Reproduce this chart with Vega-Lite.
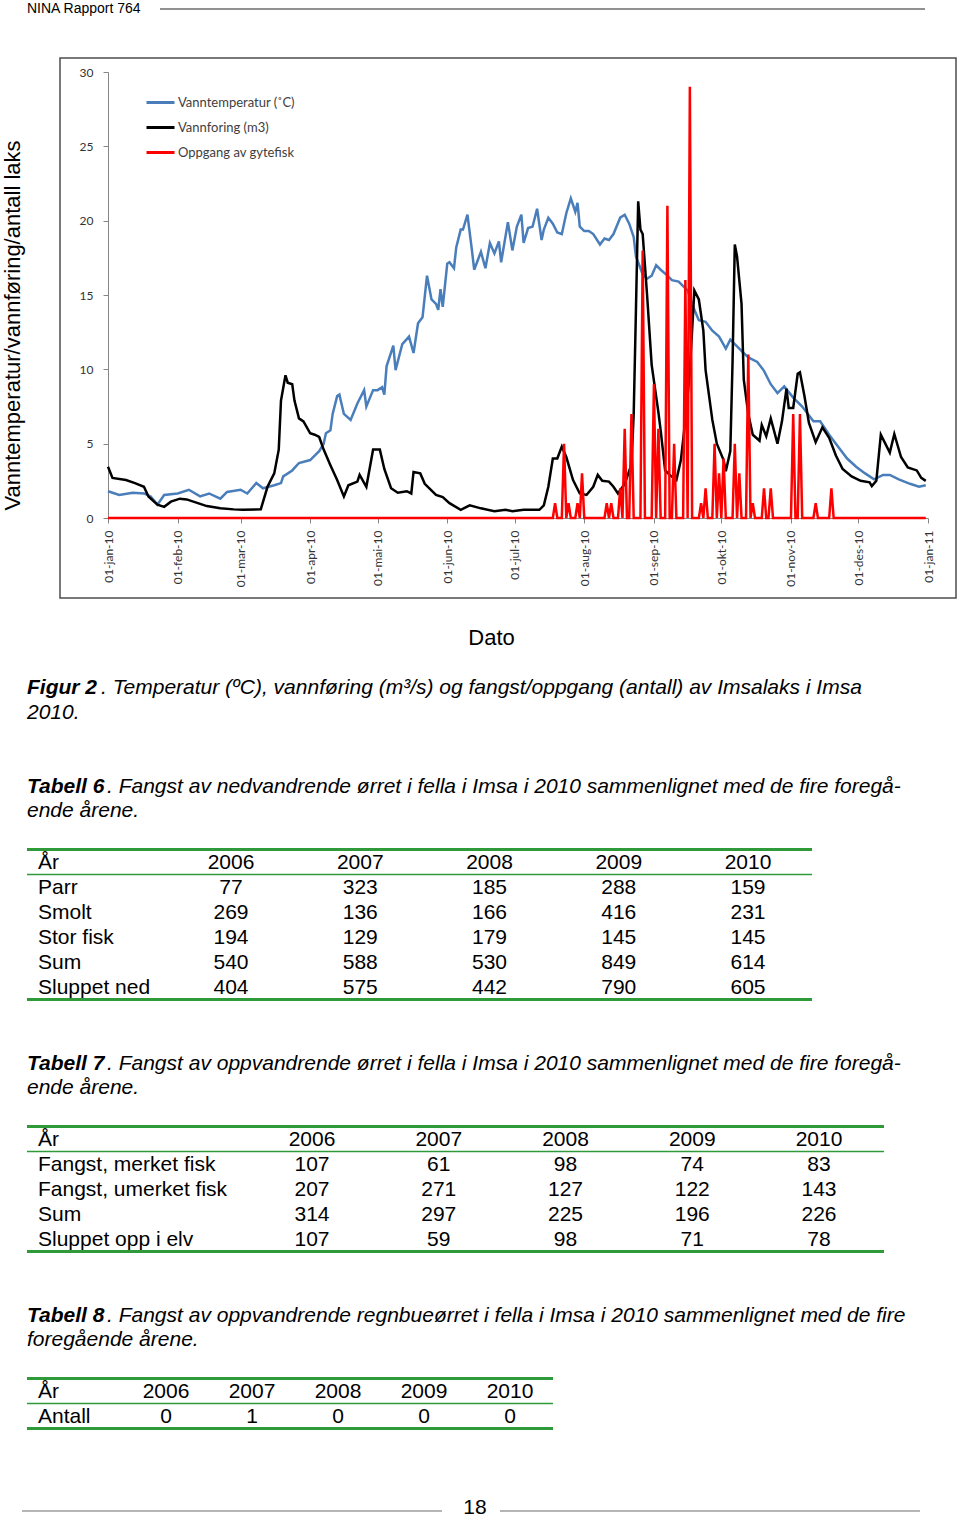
{
  "$schema": "https://vega.github.io/schema/vega-lite/v6.json",
  "width": 960,
  "height": 1520,
  "autosize": {"type": "none"},
  "padding": 0,
  "background": "white",
  "config": {"view": {"stroke": null}, "font": "Liberation Sans"},
  "datasets": {
    "temp": [
      {"date":"2010-01-01","v":1.8},{"date":"2010-01-06","v":1.55},{"date":"2010-01-12","v":1.7},{"date":"2010-01-17","v":1.65},{"date":"2010-01-20","v":1.45},{"date":"2010-01-23","v":0.9},{"date":"2010-01-26","v":1.55},{"date":"2010-02-01","v":1.65},{"date":"2010-02-06","v":1.9},{"date":"2010-02-11","v":1.45},{"date":"2010-02-15","v":1.65},{"date":"2010-02-20","v":1.3},{"date":"2010-02-23","v":1.75},{"date":"2010-03-01","v":1.9},{"date":"2010-03-04","v":1.65},{"date":"2010-03-08","v":2.35},{"date":"2010-03-11","v":2.0},{"date":"2010-03-16","v":2.2},{"date":"2010-03-19","v":2.35},{"date":"2010-03-20","v":2.8},{"date":"2010-03-24","v":3.2},{"date":"2010-03-27","v":3.7},{"date":"2010-04-01","v":3.9},{"date":"2010-04-04","v":4.35},{"date":"2010-04-05","v":4.5},{"date":"2010-04-07","v":5.0},{"date":"2010-04-08","v":5.7},{"date":"2010-04-10","v":5.9},{"date":"2010-04-11","v":7.0},{"date":"2010-04-13","v":8.2},{"date":"2010-04-14","v":8.3},{"date":"2010-04-16","v":7.0},{"date":"2010-04-19","v":6.6},{"date":"2010-04-22","v":7.7},{"date":"2010-04-25","v":8.6},{"date":"2010-04-26","v":7.5},{"date":"2010-04-29","v":8.6},{"date":"2010-05-01","v":8.6},{"date":"2010-05-03","v":8.8},{"date":"2010-05-04","v":8.3},{"date":"2010-05-05","v":10.2},{"date":"2010-05-08","v":11.6},{"date":"2010-05-09","v":9.95},{"date":"2010-05-12","v":11.7},{"date":"2010-05-15","v":12.2},{"date":"2010-05-17","v":11.1},{"date":"2010-05-19","v":13.1},{"date":"2010-05-21","v":13.5},{"date":"2010-05-23","v":16.3},{"date":"2010-05-25","v":14.7},{"date":"2010-05-27","v":14.4},{"date":"2010-05-28","v":14.0},{"date":"2010-05-29","v":15.4},{"date":"2010-05-30","v":14.2},{"date":"2010-06-01","v":17.1},{"date":"2010-06-02","v":17.2},{"date":"2010-06-04","v":16.8},{"date":"2010-06-05","v":18.2},{"date":"2010-06-07","v":19.4},{"date":"2010-06-08","v":19.4},{"date":"2010-06-10","v":20.4},{"date":"2010-06-12","v":18.0},{"date":"2010-06-13","v":16.7},{"date":"2010-06-16","v":17.9},{"date":"2010-06-18","v":16.8},{"date":"2010-06-20","v":18.5},{"date":"2010-06-22","v":17.8},{"date":"2010-06-24","v":18.6},{"date":"2010-06-25","v":17.2},{"date":"2010-06-28","v":19.9},{"date":"2010-06-30","v":18.0},{"date":"2010-07-02","v":19.6},{"date":"2010-07-04","v":20.4},{"date":"2010-07-05","v":18.5},{"date":"2010-07-07","v":19.5},{"date":"2010-07-09","v":19.6},{"date":"2010-07-11","v":20.8},{"date":"2010-07-13","v":18.7},{"date":"2010-07-14","v":19.4},{"date":"2010-07-16","v":20.2},{"date":"2010-07-18","v":19.8},{"date":"2010-07-20","v":19.2},{"date":"2010-07-22","v":19.1},{"date":"2010-07-24","v":20.5},{"date":"2010-07-26","v":21.5},{"date":"2010-07-28","v":20.6},{"date":"2010-07-29","v":21.2},{"date":"2010-07-30","v":19.6},{"date":"2010-08-01","v":19.3},{"date":"2010-08-03","v":19.3},{"date":"2010-08-05","v":19.1},{"date":"2010-08-08","v":18.4},{"date":"2010-08-10","v":18.8},{"date":"2010-08-12","v":18.7},{"date":"2010-08-14","v":19.1},{"date":"2010-08-17","v":20.2},{"date":"2010-08-19","v":20.4},{"date":"2010-08-21","v":19.8},{"date":"2010-08-23","v":18.9},{"date":"2010-08-24","v":17.6},{"date":"2010-08-27","v":16.4},{"date":"2010-08-29","v":16.1},{"date":"2010-08-31","v":16.3},{"date":"2010-09-02","v":17.0},{"date":"2010-09-04","v":16.7},{"date":"2010-09-07","v":16.3},{"date":"2010-09-09","v":16.0},{"date":"2010-09-12","v":15.9},{"date":"2010-09-16","v":15.3},{"date":"2010-09-19","v":14.0},{"date":"2010-09-21","v":13.3},{"date":"2010-09-24","v":13.2},{"date":"2010-09-27","v":12.6},{"date":"2010-09-30","v":12.2},{"date":"2010-10-03","v":11.4},{"date":"2010-10-05","v":12.0},{"date":"2010-10-09","v":11.4},{"date":"2010-10-13","v":10.8},{"date":"2010-10-17","v":10.5},{"date":"2010-10-20","v":9.9},{"date":"2010-10-23","v":9.0},{"date":"2010-10-26","v":8.4},{"date":"2010-10-29","v":8.85},{"date":"2010-11-02","v":8.1},{"date":"2010-11-06","v":7.5},{"date":"2010-11-11","v":6.5},{"date":"2010-11-14","v":6.5},{"date":"2010-11-18","v":5.6},{"date":"2010-11-22","v":4.8},{"date":"2010-11-26","v":4.0},{"date":"2010-11-30","v":3.45},{"date":"2010-12-04","v":3.0},{"date":"2010-12-08","v":2.6},{"date":"2010-12-12","v":2.9},{"date":"2010-12-15","v":2.9},{"date":"2010-12-19","v":2.6},{"date":"2010-12-24","v":2.3},{"date":"2010-12-28","v":2.1},{"date":"2010-12-31","v":2.2}
    ],
    "flow": [
      {"date":"2010-01-01","v":3.45},{"date":"2010-01-03","v":2.7},{"date":"2010-01-09","v":2.55},{"date":"2010-01-13","v":2.35},{"date":"2010-01-17","v":2.1},{"date":"2010-01-19","v":1.45},{"date":"2010-01-23","v":0.9},{"date":"2010-01-26","v":0.75},{"date":"2010-01-29","v":1.1},{"date":"2010-02-02","v":1.3},{"date":"2010-02-05","v":1.25},{"date":"2010-02-10","v":1.0},{"date":"2010-02-14","v":0.8},{"date":"2010-02-20","v":0.65},{"date":"2010-02-26","v":0.58},{"date":"2010-03-02","v":0.55},{"date":"2010-03-10","v":0.58},{"date":"2010-03-13","v":2.1},{"date":"2010-03-16","v":3.0},{"date":"2010-03-18","v":4.6},{"date":"2010-03-19","v":7.9},{"date":"2010-03-21","v":9.6},{"date":"2010-03-22","v":9.1},{"date":"2010-03-24","v":9.0},{"date":"2010-03-25","v":7.9},{"date":"2010-03-27","v":6.7},{"date":"2010-03-29","v":6.5},{"date":"2010-04-01","v":5.7},{"date":"2010-04-03","v":5.6},{"date":"2010-04-05","v":5.45},{"date":"2010-04-07","v":4.6},{"date":"2010-04-10","v":3.55},{"date":"2010-04-13","v":2.55},{"date":"2010-04-16","v":1.45},{"date":"2010-04-18","v":2.2},{"date":"2010-04-22","v":2.45},{"date":"2010-04-23","v":2.9},{"date":"2010-04-26","v":2.1},{"date":"2010-04-29","v":4.6},{"date":"2010-05-02","v":4.6},{"date":"2010-05-04","v":3.3},{"date":"2010-05-07","v":2.0},{"date":"2010-05-10","v":1.7},{"date":"2010-05-14","v":1.8},{"date":"2010-05-16","v":1.65},{"date":"2010-05-17","v":3.1},{"date":"2010-05-20","v":3.0},{"date":"2010-05-22","v":2.3},{"date":"2010-05-27","v":1.55},{"date":"2010-05-30","v":1.4},{"date":"2010-06-02","v":1.0},{"date":"2010-06-07","v":0.55},{"date":"2010-06-11","v":0.85},{"date":"2010-06-16","v":0.65},{"date":"2010-06-22","v":0.45},{"date":"2010-06-27","v":0.55},{"date":"2010-06-30","v":0.45},{"date":"2010-07-05","v":0.55},{"date":"2010-07-12","v":0.55},{"date":"2010-07-14","v":0.85},{"date":"2010-07-16","v":2.1},{"date":"2010-07-18","v":4.0},{"date":"2010-07-20","v":4.0},{"date":"2010-07-22","v":4.8},{"date":"2010-07-24","v":4.1},{"date":"2010-07-27","v":2.55},{"date":"2010-07-30","v":1.65},{"date":"2010-08-02","v":1.55},{"date":"2010-08-05","v":2.1},{"date":"2010-08-07","v":2.9},{"date":"2010-08-09","v":2.5},{"date":"2010-08-12","v":2.45},{"date":"2010-08-14","v":2.1},{"date":"2010-08-16","v":1.65},{"date":"2010-08-19","v":2.3},{"date":"2010-08-22","v":3.6},{"date":"2010-08-23","v":7.0},{"date":"2010-08-24","v":14.0},{"date":"2010-08-25","v":21.3},{"date":"2010-08-26","v":19.4},{"date":"2010-08-27","v":19.1},{"date":"2010-08-29","v":14.9},{"date":"2010-08-31","v":10.3},{"date":"2010-09-03","v":7.1},{"date":"2010-09-04","v":5.9},{"date":"2010-09-06","v":3.2},{"date":"2010-09-08","v":2.9},{"date":"2010-09-11","v":2.55},{"date":"2010-09-13","v":3.9},{"date":"2010-09-15","v":6.6},{"date":"2010-09-17","v":9.95},{"date":"2010-09-19","v":15.3},{"date":"2010-09-21","v":14.7},{"date":"2010-09-23","v":12.6},{"date":"2010-09-24","v":9.95},{"date":"2010-09-27","v":6.6},{"date":"2010-09-29","v":5.0},{"date":"2010-10-02","v":3.9},{"date":"2010-10-03","v":3.15},{"date":"2010-10-05","v":4.5},{"date":"2010-10-06","v":10.5},{"date":"2010-10-07","v":18.4},{"date":"2010-10-08","v":17.6},{"date":"2010-10-10","v":14.4},{"date":"2010-10-11","v":9.3},{"date":"2010-10-13","v":7.0},{"date":"2010-10-15","v":5.6},{"date":"2010-10-18","v":5.2},{"date":"2010-10-19","v":6.25},{"date":"2010-10-21","v":5.5},{"date":"2010-10-23","v":6.7},{"date":"2010-10-26","v":5.0},{"date":"2010-10-28","v":6.5},{"date":"2010-10-30","v":8.7},{"date":"2010-10-31","v":7.4},{"date":"2010-11-02","v":7.4},{"date":"2010-11-04","v":9.7},{"date":"2010-11-05","v":9.8},{"date":"2010-11-07","v":8.2},{"date":"2010-11-09","v":6.4},{"date":"2010-11-12","v":5.1},{"date":"2010-11-15","v":6.1},{"date":"2010-11-18","v":5.4},{"date":"2010-11-21","v":4.2},{"date":"2010-11-24","v":3.3},{"date":"2010-11-28","v":2.8},{"date":"2010-12-02","v":2.5},{"date":"2010-12-06","v":2.4},{"date":"2010-12-07","v":2.15},{"date":"2010-12-09","v":2.5},{"date":"2010-12-11","v":5.6},{"date":"2010-12-15","v":4.4},{"date":"2010-12-17","v":5.65},{"date":"2010-12-20","v":4.1},{"date":"2010-12-23","v":3.4},{"date":"2010-12-27","v":3.2},{"date":"2010-12-29","v":2.7},{"date":"2010-12-31","v":2.5}
    ],
    "fish": [
      {"date":"2010-01-01","v":0},
      {"date":"2010-07-18","v":0},{"date":"2010-07-19","v":1},{"date":"2010-07-20","v":0},
      {"date":"2010-07-22","v":0},{"date":"2010-07-23","v":5},{"date":"2010-07-24","v":0},{"date":"2010-07-25","v":1},{"date":"2010-07-26","v":0},
      {"date":"2010-07-28","v":0},{"date":"2010-07-29","v":1},{"date":"2010-07-30","v":0},{"date":"2010-07-31","v":3},{"date":"2010-08-01","v":0},
      {"date":"2010-08-10","v":0},{"date":"2010-08-11","v":1},{"date":"2010-08-12","v":0},{"date":"2010-08-13","v":1},{"date":"2010-08-14","v":0},
      {"date":"2010-08-16","v":0},{"date":"2010-08-17","v":2},{"date":"2010-08-18","v":0},{"date":"2010-08-19","v":6},{"date":"2010-08-20","v":0},
      {"date":"2010-08-21","v":0},{"date":"2010-08-22","v":7},{"date":"2010-08-23","v":0},
      {"date":"2010-08-26","v":0},{"date":"2010-08-27","v":18},{"date":"2010-08-28","v":0},
      {"date":"2010-08-31","v":0},{"date":"2010-09-01","v":9},{"date":"2010-09-02","v":0},{"date":"2010-09-03","v":6},{"date":"2010-09-04","v":0},
      {"date":"2010-09-06","v":0},{"date":"2010-09-07","v":21},{"date":"2010-09-08","v":0},
      {"date":"2010-09-09","v":0},{"date":"2010-09-10","v":5},{"date":"2010-09-11","v":0},
      {"date":"2010-09-14","v":0},{"date":"2010-09-15","v":16},{"date":"2010-09-16","v":0},{"date":"2010-09-17","v":29},{"date":"2010-09-18","v":0},
      {"date":"2010-09-21","v":0},{"date":"2010-09-22","v":1},{"date":"2010-09-23","v":0},{"date":"2010-09-24","v":2},{"date":"2010-09-25","v":0},
      {"date":"2010-09-27","v":0},{"date":"2010-09-28","v":5},{"date":"2010-09-29","v":0},{"date":"2010-09-30","v":3},{"date":"2010-10-01","v":0},{"date":"2010-10-02","v":4},{"date":"2010-10-03","v":0},
      {"date":"2010-10-06","v":0},{"date":"2010-10-07","v":5},{"date":"2010-10-08","v":0},{"date":"2010-10-09","v":3},{"date":"2010-10-10","v":0},
      {"date":"2010-10-12","v":0},{"date":"2010-10-13","v":11},{"date":"2010-10-14","v":0},{"date":"2010-10-15","v":1},{"date":"2010-10-16","v":0},
      {"date":"2010-10-19","v":0},{"date":"2010-10-20","v":2},{"date":"2010-10-21","v":0},
      {"date":"2010-10-22","v":0},{"date":"2010-10-23","v":2},{"date":"2010-10-24","v":0},
      {"date":"2010-11-01","v":0},{"date":"2010-11-02","v":7},{"date":"2010-11-03","v":0},
      {"date":"2010-11-04","v":0},{"date":"2010-11-05","v":7},{"date":"2010-11-06","v":0},
      {"date":"2010-11-11","v":0},{"date":"2010-11-12","v":1},{"date":"2010-11-13","v":0},
      {"date":"2010-11-18","v":0},{"date":"2010-11-19","v":2},{"date":"2010-11-20","v":0},
      {"date":"2010-12-31","v":0}
    ]
  },
  "layer": [
    {
      "data": {"values": [{"line": "header", "text": "NINA Rapport 764"}]},
      "mark": {"type": "text", "align": "left", "baseline": "middle", "font": "Liberation Sans", "fontSize": 14, "color": "black"},
      "encoding": {
        "x": {"datum": "margin", "type": "nominal", "scale": {"type": "point", "range": [27, 27], "padding": 0}, "axis": null},
        "y": {"field": "line", "type": "nominal", "scale": {"type": "point", "range": [9, 9], "padding": 0}, "axis": null},
        "text": {"field": "text"}
      }
    },
    {
      "data": {"values": [{"line": "header"}]},
      "mark": {"type": "rule", "color": "#6d6d6d", "strokeWidth": 1.5},
      "encoding": {
        "x": {"datum": 0, "type": "quantitative", "scale": {"domain": [0, 1], "range": [160, 925]}, "axis": null},
        "x2": {"datum": 1},
        "y": {"field": "line", "type": "nominal", "scale": {"type": "point", "range": [9, 9], "padding": 0}, "axis": null}
      }
    },
    {
      "data": {"values": [{"box": "chart"}]},
      "mark": {"type": "rect", "filled": false, "color": "#4d4d4d", "strokeWidth": 1.5},
      "encoding": {
        "x": {"datum": 0, "type": "quantitative", "scale": {"domain": [0, 1], "range": [60, 956]}, "axis": null},
        "x2": {"datum": 1},
        "y": {"datum": 0, "type": "quantitative", "scale": {"domain": [0, 1], "range": [58, 598]}, "axis": null},
        "y2": {"datum": 1}
      }
    },
    {
      "layer": [
        {
          "data": {"name": "temp"},
          "mark": {"type": "line", "strokeWidth": 2.5},
          "encoding": {
            "x": {
              "field": "date", "type": "temporal",
              "scale": {"type": "utc", "domain": [{"year": 2010, "month": 1, "date": 1, "utc": true}, {"year": 2011, "month": 1, "date": 1, "utc": true}], "range": [108, 928], "nice": false},
              "axis": {
                "orient": "bottom", "offset": -1002,
                "title": "Dato", "titleFont": "Liberation Sans", "titleFontSize": 22, "titleFontWeight": "normal", "titleColor": "black",
                "titleX": 491, "titleY": 119, "titleAlign": "center", "titleBaseline": "middle",
                "tickCount": {"interval": "month", "step": 1},
                "labelExpr": "'01-' + ['jan','feb','mar','apr','mai','jun','jul','aug','sep','okt','nov','des'][utcmonth(datum.value)] + '-' + utcFormat(datum.value, '%y')",
                "labelAngle": 270, "labelFont": "Lato", "labelFontSize": 12, "labelColor": "#333333", "labelPadding": 7,
                "labelOverlap": false, "labelBound": false, "labelFlush": false,
                "tickSize": 5, "tickColor": "#868686", "domainColor": "#868686", "grid": false
              }
            },
            "y": {
              "field": "v", "type": "quantitative",
              "scale": {"domain": [0, 30], "range": [518, 72], "nice": false, "zero": false},
              "axis": {
                "orient": "left", "offset": -108,
                "title": "Vanntemperatur/vannføring/antall laks", "titleFont": "Liberation Sans", "titleFontSize": 22, "titleFontWeight": "normal", "titleColor": "black",
                "titleX": -96, "titleY": 325, "titleAngle": 270, "titleAlign": "center", "titleBaseline": "middle",
                "values": [0, 5, 10, 15, 20, 25, 30],
                "labelFont": "Lato", "labelFontSize": 12, "labelColor": "#333333", "labelPadding": 10,
                "tickSize": 5, "tickColor": "#868686", "domainColor": "#868686", "grid": false
              }
            },
            "color": {
              "datum": "Vanntemperatur (˚C)", "type": "nominal",
              "scale": {"domain": ["Vanntemperatur (˚C)", "Vannforing (m3)", "Oppgang av gytefisk"], "range": ["#4a7ebb", "#000000", "#ff0000"]},
              "legend": {
                "orient": "none", "legendX": 145, "legendY": 87, "title": null,
                "symbolType": "stroke", "symbolStrokeWidth": 3, "symbolSize": 784,
                "labelFont": "Lato", "labelFontSize": 13, "labelColor": "#404040",
                "rowPadding": 2, "padding": 0, "labelOffset": 2
              }
            }
          }
        },
        {
          "data": {"name": "flow"},
          "mark": {"type": "line", "strokeWidth": 2.5},
          "encoding": {
            "x": {"field": "date", "type": "temporal"},
            "y": {"field": "v", "type": "quantitative"},
            "color": {"datum": "Vannforing (m3)", "type": "nominal"}
          }
        },
        {
          "data": {"name": "fish"},
          "mark": {"type": "line", "strokeWidth": 2.5},
          "encoding": {
            "x": {"field": "date", "type": "temporal"},
            "y": {"field": "v", "type": "quantitative"},
            "color": {"datum": "Oppgang av gytefisk", "type": "nominal"}
          }
        }
      ]
    },
    {
      "data": {"values": [{"line": 1, "part": "start", "text": "Figur 2"}]},
      "mark": {"type": "text", "align": "left", "baseline": "middle", "font": "Liberation Sans", "fontSize": 21, "fontStyle": "italic", "fontWeight": "bold", "color": "black"},
      "encoding": {
        "x": {"field": "part", "type": "nominal", "scale": {"type": "point", "domain": ["start", "after"], "range": [27, 101], "padding": 0}, "axis": null},
        "y": {"field": "line", "type": "ordinal", "scale": {"type": "point", "domain": [1, 2], "range": [688, 713], "padding": 0}, "axis": null},
        "text": {"field": "text"}
      }
    },
    {
      "data": {"values": [{"line": 1, "part": "after", "text": ". Temperatur (ºC), vannføring (m³/s) og fangst/oppgang (antall) av Imsalaks i Imsa"}, {"line": 2, "part": "start", "text": "2010."}]},
      "mark": {"type": "text", "align": "left", "baseline": "middle", "font": "Liberation Sans", "fontSize": 21, "fontStyle": "italic", "color": "black"},
      "encoding": {
        "x": {"field": "part", "type": "nominal", "scale": {"type": "point", "domain": ["start", "after"], "range": [27, 101], "padding": 0}, "axis": null},
        "y": {"field": "line", "type": "ordinal", "scale": {"type": "point", "domain": [1, 2], "range": [688, 713], "padding": 0}, "axis": null},
        "text": {"field": "text"}
      }
    },
    {
      "data": {"values": [{"line": 1, "part": "start", "text": "Tabell 6"}]},
      "mark": {"type": "text", "align": "left", "baseline": "middle", "font": "Liberation Sans", "fontSize": 21, "fontStyle": "italic", "fontWeight": "bold", "color": "black"},
      "encoding": {
        "x": {"field": "part", "type": "nominal", "scale": {"type": "point", "domain": ["start", "after"], "range": [27, 107], "padding": 0}, "axis": null},
        "y": {"field": "line", "type": "ordinal", "scale": {"type": "point", "domain": [1, 2], "range": [787, 811], "padding": 0}, "axis": null},
        "text": {"field": "text"}
      }
    },
    {
      "data": {"values": [{"line": 1, "part": "after", "text": ". Fangst av nedvandrende ørret i fella i Imsa i 2010 sammenlignet med de fire foregå-"}, {"line": 2, "part": "start", "text": "ende årene."}]},
      "mark": {"type": "text", "align": "left", "baseline": "middle", "font": "Liberation Sans", "fontSize": 21, "fontStyle": "italic", "color": "black"},
      "encoding": {
        "x": {"field": "part", "type": "nominal", "scale": {"type": "point", "domain": ["start", "after"], "range": [27, 107], "padding": 0}, "axis": null},
        "y": {"field": "line", "type": "ordinal", "scale": {"type": "point", "domain": [1, 2], "range": [787, 811], "padding": 0}, "axis": null},
        "text": {"field": "text"}
      }
    },
    {
      "data": {"values": [{"row": "År"}, {"row": "Parr"}, {"row": "Smolt"}, {"row": "Stor fisk"}, {"row": "Sum"}, {"row": "Sluppet ned"}]},
      "mark": {"type": "text", "align": "left", "baseline": "middle", "font": "Liberation Sans", "fontSize": 21, "color": "black"},
      "encoding": {
        "x": {"datum": "label", "type": "nominal", "scale": {"type": "point", "range": [38, 38], "padding": 0}, "axis": null},
        "y": {"field": "row", "type": "nominal", "scale": {"type": "band", "domain": ["År", "Parr", "Smolt", "Stor fisk", "Sum", "Sluppet ned"], "range": [850, 1000], "paddingInner": 0, "paddingOuter": 0}, "axis": null},
        "text": {"field": "row"}
      }
    },
    {
      "data": {"values": [
        {"row": "År", "year": "2006", "n": "2006"}, {"row": "År", "year": "2007", "n": "2007"}, {"row": "År", "year": "2008", "n": "2008"}, {"row": "År", "year": "2009", "n": "2009"}, {"row": "År", "year": "2010", "n": "2010"},
        {"row": "Parr", "year": "2006", "n": "77"}, {"row": "Parr", "year": "2007", "n": "323"}, {"row": "Parr", "year": "2008", "n": "185"}, {"row": "Parr", "year": "2009", "n": "288"}, {"row": "Parr", "year": "2010", "n": "159"},
        {"row": "Smolt", "year": "2006", "n": "269"}, {"row": "Smolt", "year": "2007", "n": "136"}, {"row": "Smolt", "year": "2008", "n": "166"}, {"row": "Smolt", "year": "2009", "n": "416"}, {"row": "Smolt", "year": "2010", "n": "231"},
        {"row": "Stor fisk", "year": "2006", "n": "194"}, {"row": "Stor fisk", "year": "2007", "n": "129"}, {"row": "Stor fisk", "year": "2008", "n": "179"}, {"row": "Stor fisk", "year": "2009", "n": "145"}, {"row": "Stor fisk", "year": "2010", "n": "145"},
        {"row": "Sum", "year": "2006", "n": "540"}, {"row": "Sum", "year": "2007", "n": "588"}, {"row": "Sum", "year": "2008", "n": "530"}, {"row": "Sum", "year": "2009", "n": "849"}, {"row": "Sum", "year": "2010", "n": "614"},
        {"row": "Sluppet ned", "year": "2006", "n": "404"}, {"row": "Sluppet ned", "year": "2007", "n": "575"}, {"row": "Sluppet ned", "year": "2008", "n": "442"}, {"row": "Sluppet ned", "year": "2009", "n": "790"}, {"row": "Sluppet ned", "year": "2010", "n": "605"}
      ]},
      "mark": {"type": "text", "align": "center", "baseline": "middle", "font": "Liberation Sans", "fontSize": 21, "color": "black"},
      "encoding": {
        "x": {"field": "year", "type": "ordinal", "scale": {"type": "point", "domain": ["2006", "2007", "2008", "2009", "2010"], "range": [231, 748], "padding": 0}, "axis": null},
        "y": {"field": "row", "type": "nominal", "scale": {"type": "band", "domain": ["År", "Parr", "Smolt", "Stor fisk", "Sum", "Sluppet ned"], "range": [850, 1000], "paddingInner": 0, "paddingOuter": 0}, "axis": null},
        "text": {"field": "n", "type": "nominal"}
      }
    },
    {
      "data": {"values": [{"row": "År", "kind": "thick"}]},
      "mark": {"type": "rule", "color": "#2f9a3a"},
      "encoding": {
        "x": {"datum": 0, "type": "quantitative", "scale": {"domain": [0, 1], "range": [27, 812]}, "axis": null},
        "x2": {"datum": 1},
        "y": {"field": "row", "type": "nominal", "bandPosition": 0, "scale": {"type": "band", "domain": ["År", "Parr", "Smolt", "Stor fisk", "Sum", "Sluppet ned"], "range": [849.5, 999.5], "paddingInner": 0, "paddingOuter": 0}, "axis": null},
        "strokeWidth": {"field": "kind", "type": "nominal", "scale": {"domain": ["thin", "thick"], "range": [1.5, 3]}, "legend": null}
      }
    },
    {
      "data": {"values": [{"row": "År", "kind": "thin"}, {"row": "Sluppet ned", "kind": "thick"}]},
      "mark": {"type": "rule", "color": "#2f9a3a"},
      "encoding": {
        "x": {"datum": 0, "type": "quantitative", "scale": {"domain": [0, 1], "range": [27, 812]}, "axis": null},
        "x2": {"datum": 1},
        "y": {"field": "row", "type": "nominal", "bandPosition": 1, "scale": {"type": "band", "domain": ["År", "Parr", "Smolt", "Stor fisk", "Sum", "Sluppet ned"], "range": [849.5, 999.5], "paddingInner": 0, "paddingOuter": 0}, "axis": null},
        "strokeWidth": {"field": "kind", "type": "nominal", "scale": {"domain": ["thin", "thick"], "range": [1.5, 3]}, "legend": null}
      }
    },
    {
      "data": {"values": [{"line": 1, "part": "start", "text": "Tabell 7"}]},
      "mark": {"type": "text", "align": "left", "baseline": "middle", "font": "Liberation Sans", "fontSize": 21, "fontStyle": "italic", "fontWeight": "bold", "color": "black"},
      "encoding": {
        "x": {"field": "part", "type": "nominal", "scale": {"type": "point", "domain": ["start", "after"], "range": [27, 107], "padding": 0}, "axis": null},
        "y": {"field": "line", "type": "ordinal", "scale": {"type": "point", "domain": [1, 2], "range": [1064, 1088], "padding": 0}, "axis": null},
        "text": {"field": "text"}
      }
    },
    {
      "data": {"values": [{"line": 1, "part": "after", "text": ". Fangst av oppvandrende ørret i fella i Imsa i 2010 sammenlignet med de fire foregå-"}, {"line": 2, "part": "start", "text": "ende årene."}]},
      "mark": {"type": "text", "align": "left", "baseline": "middle", "font": "Liberation Sans", "fontSize": 21, "fontStyle": "italic", "color": "black"},
      "encoding": {
        "x": {"field": "part", "type": "nominal", "scale": {"type": "point", "domain": ["start", "after"], "range": [27, 107], "padding": 0}, "axis": null},
        "y": {"field": "line", "type": "ordinal", "scale": {"type": "point", "domain": [1, 2], "range": [1064, 1088], "padding": 0}, "axis": null},
        "text": {"field": "text"}
      }
    },
    {
      "data": {"values": [{"row": "År"}, {"row": "Fangst, merket fisk"}, {"row": "Fangst, umerket fisk"}, {"row": "Sum"}, {"row": "Sluppet opp i elv"}]},
      "mark": {"type": "text", "align": "left", "baseline": "middle", "font": "Liberation Sans", "fontSize": 21, "color": "black"},
      "encoding": {
        "x": {"datum": "label", "type": "nominal", "scale": {"type": "point", "range": [38, 38], "padding": 0}, "axis": null},
        "y": {"field": "row", "type": "nominal", "scale": {"type": "band", "domain": ["År", "Fangst, merket fisk", "Fangst, umerket fisk", "Sum", "Sluppet opp i elv"], "range": [1127, 1252], "paddingInner": 0, "paddingOuter": 0}, "axis": null},
        "text": {"field": "row"}
      }
    },
    {
      "data": {"values": [
        {"row": "År", "year": "2006", "n": "2006"}, {"row": "År", "year": "2007", "n": "2007"}, {"row": "År", "year": "2008", "n": "2008"}, {"row": "År", "year": "2009", "n": "2009"}, {"row": "År", "year": "2010", "n": "2010"},
        {"row": "Fangst, merket fisk", "year": "2006", "n": "107"}, {"row": "Fangst, merket fisk", "year": "2007", "n": "61"}, {"row": "Fangst, merket fisk", "year": "2008", "n": "98"}, {"row": "Fangst, merket fisk", "year": "2009", "n": "74"}, {"row": "Fangst, merket fisk", "year": "2010", "n": "83"},
        {"row": "Fangst, umerket fisk", "year": "2006", "n": "207"}, {"row": "Fangst, umerket fisk", "year": "2007", "n": "271"}, {"row": "Fangst, umerket fisk", "year": "2008", "n": "127"}, {"row": "Fangst, umerket fisk", "year": "2009", "n": "122"}, {"row": "Fangst, umerket fisk", "year": "2010", "n": "143"},
        {"row": "Sum", "year": "2006", "n": "314"}, {"row": "Sum", "year": "2007", "n": "297"}, {"row": "Sum", "year": "2008", "n": "225"}, {"row": "Sum", "year": "2009", "n": "196"}, {"row": "Sum", "year": "2010", "n": "226"},
        {"row": "Sluppet opp i elv", "year": "2006", "n": "107"}, {"row": "Sluppet opp i elv", "year": "2007", "n": "59"}, {"row": "Sluppet opp i elv", "year": "2008", "n": "98"}, {"row": "Sluppet opp i elv", "year": "2009", "n": "71"}, {"row": "Sluppet opp i elv", "year": "2010", "n": "78"}
      ]},
      "mark": {"type": "text", "align": "center", "baseline": "middle", "font": "Liberation Sans", "fontSize": 21, "color": "black"},
      "encoding": {
        "x": {"field": "year", "type": "ordinal", "scale": {"type": "point", "domain": ["2006", "2007", "2008", "2009", "2010"], "range": [312, 819], "padding": 0}, "axis": null},
        "y": {"field": "row", "type": "nominal", "scale": {"type": "band", "domain": ["År", "Fangst, merket fisk", "Fangst, umerket fisk", "Sum", "Sluppet opp i elv"], "range": [1127, 1252], "paddingInner": 0, "paddingOuter": 0}, "axis": null},
        "text": {"field": "n", "type": "nominal"}
      }
    },
    {
      "data": {"values": [{"row": "År", "kind": "thick"}]},
      "mark": {"type": "rule", "color": "#2f9a3a"},
      "encoding": {
        "x": {"datum": 0, "type": "quantitative", "scale": {"domain": [0, 1], "range": [27, 884]}, "axis": null},
        "x2": {"datum": 1},
        "y": {"field": "row", "type": "nominal", "bandPosition": 0, "scale": {"type": "band", "domain": ["År", "Fangst, merket fisk", "Fangst, umerket fisk", "Sum", "Sluppet opp i elv"], "range": [1126.5, 1251.5], "paddingInner": 0, "paddingOuter": 0}, "axis": null},
        "strokeWidth": {"field": "kind", "type": "nominal", "scale": {"domain": ["thin", "thick"], "range": [1.5, 3]}, "legend": null}
      }
    },
    {
      "data": {"values": [{"row": "År", "kind": "thin"}, {"row": "Sluppet opp i elv", "kind": "thick"}]},
      "mark": {"type": "rule", "color": "#2f9a3a"},
      "encoding": {
        "x": {"datum": 0, "type": "quantitative", "scale": {"domain": [0, 1], "range": [27, 884]}, "axis": null},
        "x2": {"datum": 1},
        "y": {"field": "row", "type": "nominal", "bandPosition": 1, "scale": {"type": "band", "domain": ["År", "Fangst, merket fisk", "Fangst, umerket fisk", "Sum", "Sluppet opp i elv"], "range": [1126.5, 1251.5], "paddingInner": 0, "paddingOuter": 0}, "axis": null},
        "strokeWidth": {"field": "kind", "type": "nominal", "scale": {"domain": ["thin", "thick"], "range": [1.5, 3]}, "legend": null}
      }
    },
    {
      "data": {"values": [{"line": 1, "part": "start", "text": "Tabell 8"}]},
      "mark": {"type": "text", "align": "left", "baseline": "middle", "font": "Liberation Sans", "fontSize": 21, "fontStyle": "italic", "fontWeight": "bold", "color": "black"},
      "encoding": {
        "x": {"field": "part", "type": "nominal", "scale": {"type": "point", "domain": ["start", "after"], "range": [27, 107], "padding": 0}, "axis": null},
        "y": {"field": "line", "type": "ordinal", "scale": {"type": "point", "domain": [1, 2], "range": [1316, 1340], "padding": 0}, "axis": null},
        "text": {"field": "text"}
      }
    },
    {
      "data": {"values": [{"line": 1, "part": "after", "text": ". Fangst av oppvandrende regnbueørret i fella i Imsa i 2010 sammenlignet med de fire"}, {"line": 2, "part": "start", "text": "foregående årene."}]},
      "mark": {"type": "text", "align": "left", "baseline": "middle", "font": "Liberation Sans", "fontSize": 21, "fontStyle": "italic", "color": "black"},
      "encoding": {
        "x": {"field": "part", "type": "nominal", "scale": {"type": "point", "domain": ["start", "after"], "range": [27, 107], "padding": 0}, "axis": null},
        "y": {"field": "line", "type": "ordinal", "scale": {"type": "point", "domain": [1, 2], "range": [1316, 1340], "padding": 0}, "axis": null},
        "text": {"field": "text"}
      }
    },
    {
      "data": {"values": [{"row": "År"}, {"row": "Antall"}]},
      "mark": {"type": "text", "align": "left", "baseline": "middle", "font": "Liberation Sans", "fontSize": 21, "color": "black"},
      "encoding": {
        "x": {"datum": "label", "type": "nominal", "scale": {"type": "point", "range": [38, 38], "padding": 0}, "axis": null},
        "y": {"field": "row", "type": "nominal", "scale": {"type": "band", "domain": ["År", "Antall"], "range": [1379, 1429], "paddingInner": 0, "paddingOuter": 0}, "axis": null},
        "text": {"field": "row"}
      }
    },
    {
      "data": {"values": [
        {"row": "År", "year": "2006", "n": "2006"}, {"row": "År", "year": "2007", "n": "2007"}, {"row": "År", "year": "2008", "n": "2008"}, {"row": "År", "year": "2009", "n": "2009"}, {"row": "År", "year": "2010", "n": "2010"},
        {"row": "Antall", "year": "2006", "n": "0"}, {"row": "Antall", "year": "2007", "n": "1"}, {"row": "Antall", "year": "2008", "n": "0"}, {"row": "Antall", "year": "2009", "n": "0"}, {"row": "Antall", "year": "2010", "n": "0"}
      ]},
      "mark": {"type": "text", "align": "center", "baseline": "middle", "font": "Liberation Sans", "fontSize": 21, "color": "black"},
      "encoding": {
        "x": {"field": "year", "type": "ordinal", "scale": {"type": "point", "domain": ["2006", "2007", "2008", "2009", "2010"], "range": [166, 510], "padding": 0}, "axis": null},
        "y": {"field": "row", "type": "nominal", "scale": {"type": "band", "domain": ["År", "Antall"], "range": [1379, 1429], "paddingInner": 0, "paddingOuter": 0}, "axis": null},
        "text": {"field": "n", "type": "nominal"}
      }
    },
    {
      "data": {"values": [{"row": "År", "kind": "thick"}]},
      "mark": {"type": "rule", "color": "#2f9a3a"},
      "encoding": {
        "x": {"datum": 0, "type": "quantitative", "scale": {"domain": [0, 1], "range": [27, 553]}, "axis": null},
        "x2": {"datum": 1},
        "y": {"field": "row", "type": "nominal", "bandPosition": 0, "scale": {"type": "band", "domain": ["År", "Antall"], "range": [1378.5, 1428.5], "paddingInner": 0, "paddingOuter": 0}, "axis": null},
        "strokeWidth": {"field": "kind", "type": "nominal", "scale": {"domain": ["thin", "thick"], "range": [1.5, 3]}, "legend": null}
      }
    },
    {
      "data": {"values": [{"row": "År", "kind": "thin"}, {"row": "Antall", "kind": "thick"}]},
      "mark": {"type": "rule", "color": "#2f9a3a"},
      "encoding": {
        "x": {"datum": 0, "type": "quantitative", "scale": {"domain": [0, 1], "range": [27, 553]}, "axis": null},
        "x2": {"datum": 1},
        "y": {"field": "row", "type": "nominal", "bandPosition": 1, "scale": {"type": "band", "domain": ["År", "Antall"], "range": [1378.5, 1428.5], "paddingInner": 0, "paddingOuter": 0}, "axis": null},
        "strokeWidth": {"field": "kind", "type": "nominal", "scale": {"domain": ["thin", "thick"], "range": [1.5, 3]}, "legend": null}
      }
    },
    {
      "data": {"values": [{"line": "footer", "text": "18"}]},
      "mark": {"type": "text", "align": "center", "baseline": "middle", "font": "Liberation Sans", "fontSize": 21, "color": "black"},
      "encoding": {
        "x": {"datum": "page", "type": "nominal", "scale": {"type": "point", "range": [475, 475], "padding": 0}, "axis": null},
        "y": {"field": "line", "type": "nominal", "scale": {"type": "point", "range": [1508, 1508], "padding": 0}, "axis": null},
        "text": {"field": "text"}
      }
    },
    {
      "data": {"values": [{"line": "footer"}]},
      "mark": {"type": "rule", "color": "#6d6d6d", "strokeWidth": 1.2},
      "encoding": {
        "x": {"datum": 0, "type": "quantitative", "scale": {"domain": [0, 1], "range": [22, 442]}, "axis": null},
        "x2": {"datum": 1},
        "y": {"field": "line", "type": "nominal", "scale": {"type": "point", "range": [1511, 1511], "padding": 0}, "axis": null}
      }
    },
    {
      "data": {"values": [{"line": "footer"}]},
      "mark": {"type": "rule", "color": "#6d6d6d", "strokeWidth": 1.2},
      "encoding": {
        "x": {"datum": 0, "type": "quantitative", "scale": {"domain": [0, 1], "range": [500, 920]}, "axis": null},
        "x2": {"datum": 1},
        "y": {"field": "line", "type": "nominal", "scale": {"type": "point", "range": [1511, 1511], "padding": 0}, "axis": null}
      }
    }
  ],
  "resolve": {"scale": {"x": "independent", "y": "independent", "color": "independent", "strokeWidth": "independent"}}
}
